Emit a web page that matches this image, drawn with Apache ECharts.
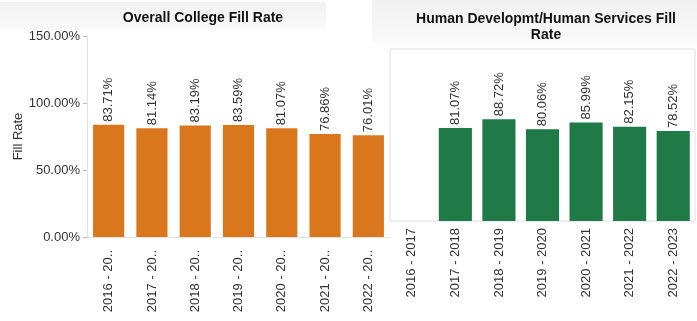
<!DOCTYPE html>
<html>
<head>
<meta charset="utf-8">
<script src="https://cdn.jsdelivr.net/npm/echarts@6/dist/echarts.min.js"></script>
<style>
  html, body { margin: 0; padding: 0; background: #fff; }
  #chart { width: 697px; height: 321px; }
</style>
</head>
<body>
<div id="chart"></div>
<script>
// Academic years shown on both panels
const years = ['2016 - 2017', '2017 - 2018', '2018 - 2019', '2019 - 2020', '2020 - 2021', '2021 - 2022', '2022 - 2023'];
// Fill rate (%) for the whole college
const collegeFill = [83.71, 81.14, 83.19, 83.59, 81.07, 76.86, 76.01];
// Fill rate (%) for Human Developmt/Human Services (no value for the first year)
const hdhsFill = [null, 81.07, 88.72, 80.06, 85.99, 82.15, 78.52];
// Value axis ticks
const yTicks = [0, 50, 100, 150];

const FONT = 'Liberation Sans, Arial, sans-serif';
const ORANGE = '#da761c';
const GREEN = '#1f7a47';

const chart = echarts.init(document.getElementById('chart'), null, { renderer: 'canvas' });

const valueLabel = {
  show: true,
  position: 'top',
  rotate: 90,
  align: 'left',
  verticalAlign: 'middle',
  distance: 3,
  fontFamily: FONT,
  fontSize: 13,
  color: '#333',
  formatter: p => (p.value == null ? '' : p.value.toFixed(2) + '%')
};

// soft grey header bands behind the two panel titles
const headerFill = new echarts.graphic.LinearGradient(0, 0, 0, 1, [
  { offset: 0, color: '#f1f1f1' },
  { offset: 1, color: '#fafafa' }
]);

chart.setOption({
  animation: false,
  graphic: [
    { type: 'rect', shape: { x: 0, y: 2, width: 326, height: 28 }, style: { fill: headerFill }, z: -10 },
    { type: 'rect', shape: { x: 372, y: 0, width: 325, height: 43 }, style: { fill: headerFill }, z: -10 }
  ],
  title: [
    {
      text: 'Overall College Fill Rate',
      left: 198, top: 6, textAlign: 'center',
      textStyle: { fontFamily: FONT, fontSize: 14, fontWeight: 'bold', color: '#111' }
    },
    {
      text: 'Human Developmt/Human Services Fill\nRate',
      left: 541, top: 6, textAlign: 'center',
      textStyle: { fontFamily: FONT, fontSize: 14, fontWeight: 'bold', color: '#111', lineHeight: 16 }
    }
  ],
  grid: [
    { left: 87, right: 307, top: 36, bottom: 84 },
    { left: 390, right: 2, top: 49, bottom: 100, show: true, borderColor: '#dedede', borderWidth: 1, backgroundColor: 'transparent' }
  ],
  xAxis: [
    {
      type: 'category', gridIndex: 0, data: years,
      axisLine: { show: true, lineStyle: { color: '#e2e2e2' } },
      axisTick: { show: false },
      axisLabel: {
        rotate: 90, margin: 13, fontFamily: FONT, fontSize: 13, color: '#333',
        width: 66, overflow: 'truncate', ellipsis: '..'
      }
    },
    {
      type: 'category', gridIndex: 1, data: years,
      axisLine: { show: false },
      axisTick: { show: false },
      axisLabel: { rotate: 90, margin: 7, fontFamily: FONT, fontSize: 13, color: '#333' }
    }
  ],
  yAxis: [
    {
      type: 'value', gridIndex: 0, min: yTicks[0], max: yTicks[yTicks.length - 1], interval: 50,
      name: 'Fill Rate', nameLocation: 'middle', nameGap: 52,
      nameTextStyle: { fontFamily: FONT, fontSize: 13, color: '#333' },
      axisLine: { show: true, lineStyle: { color: '#e2e2e2' } },
      axisTick: { show: true, length: 4, lineStyle: { color: '#bbb' } },
      splitLine: { show: false },
      axisLabel: { margin: 7, fontFamily: FONT, fontSize: 13, color: '#333', formatter: v => v.toFixed(2) + '%' }
    },
    {
      type: 'value', gridIndex: 1, min: yTicks[0], max: yTicks[yTicks.length - 1], interval: 50,
      show: false, splitLine: { show: false }
    }
  ],
  series: [
    {
      type: 'bar', xAxisIndex: 0, yAxisIndex: 0, data: collegeFill,
      barCategoryGap: '28%', itemStyle: { color: ORANGE }, label: valueLabel
    },
    {
      type: 'bar', xAxisIndex: 1, yAxisIndex: 1, data: hdhsFill,
      barCategoryGap: '24%', itemStyle: { color: GREEN }, label: valueLabel
    }
  ]
});
</script>
</body>
</html>
